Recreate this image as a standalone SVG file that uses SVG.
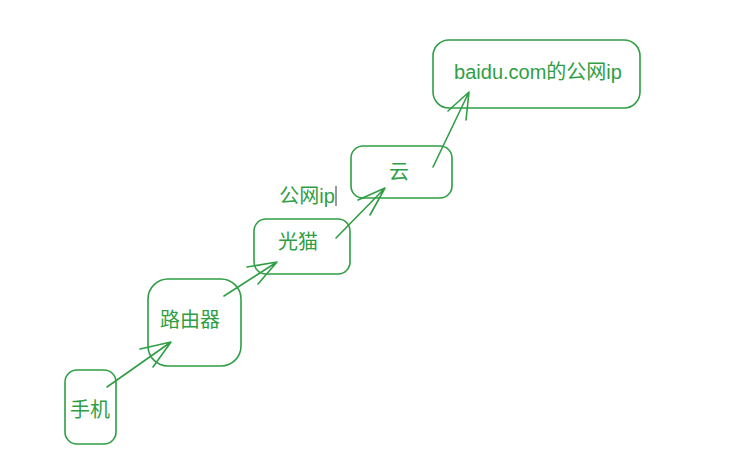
<svg xmlns="http://www.w3.org/2000/svg" width="755" height="459" viewBox="0 0 755 459">
<style>
.box{fill:none;stroke:#2f9e44;stroke-width:1.6}
.lbl{fill:#2f9e44;font-family:"Noto Sans CJK SC","Liberation Sans",sans-serif;font-size:20px;text-anchor:middle;dominant-baseline:central}
.arr{fill:none;stroke:#2f9e44;stroke-width:1.6;stroke-linecap:round;stroke-linejoin:round}
</style>
<rect width="755" height="459" fill="#ffffff"/>
<g id="phone"><rect class="box" x="65" y="370" width="51" height="74" rx="12"/><text class="lbl" x="90" y="408">手机</text></g>
<g id="router"><rect class="box" x="148" y="279" width="93" height="87" rx="20"/><text class="lbl" x="190" y="318">路由器</text></g>
<g id="modem"><rect class="box" x="254" y="219" width="96" height="55" rx="12"/><text class="lbl" x="298" y="240">光猫</text></g>
<g id="cloud"><rect class="box" x="351" y="146" width="101" height="52" rx="12"/><text class="lbl" x="399" y="170">云</text></g>
<g id="baidu"><rect class="box" x="433" y="40" width="207" height="68" rx="16"/><text class="lbl" x="538" y="72" style="font-family:'Liberation Sans','Noto Sans CJK SC',sans-serif">baidu.com的公网ip</text></g>
<g id="label-ip"><text class="lbl" x="307" y="196" style="font-family:'Liberation Sans','Noto Sans CJK SC',sans-serif">公网ip</text><line x1="336" y1="186" x2="336" y2="206" stroke="#333" stroke-width="1"/></g>
<g id="connectors">
<path class="arr" d="M107 387 L171 342 M140 349 L171 342 L153 367"/>
<path class="arr" d="M224 296 L277 262 M247 267 L277 262 L258 284"/>
<path class="arr" d="M336 238 L385 188 M358 200 L385 188 L370 215"/>
<path class="arr" d="M433 167 L469 92 M448 111 L469 92 L466 120"/>
</g>
</svg>
